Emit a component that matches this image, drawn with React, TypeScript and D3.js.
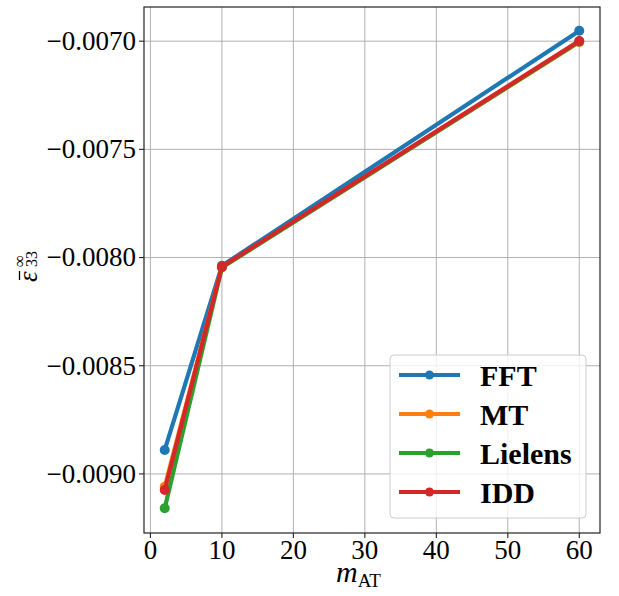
import React from "react";
import * as d3 from "d3";

const xValues = [2, 10, 60];
const seriesNames = ["FFT", "MT", "Lielens", "IDD"];
const seriesColors = ["#1f77b4", "#ff7f0e", "#2ca02c", "#d62728"];
const fftValues = [-0.008889, -0.008038, -0.006952];
const mtValues = [-0.009059, -0.008044, -0.007004];
const lielensValues = [-0.009159, -0.008046, -0.007002];
const iddValues = [-0.009074, -0.008042, -0.006999];
const xTicks = [0, 10, 20, 30, 40, 50, 60];
const yTicks = [-0.009, -0.0085, -0.008, -0.0075, -0.007];
const yTickLabels = ["\u22120.0090", "\u22120.0085", "\u22120.0080", "\u22120.0075", "\u22120.0070"];

const W = 619;
const H = 596;
const L = 144, R = 600, T = 7, B = 533;
const FONT = "'Liberation Serif', 'DejaVu Serif', serif";

export default function App() {
  const allSeries = [fftValues, mtValues, lielensValues, iddValues];
  const x = d3.scaleLinear().domain([-0.9, 62.9]).range([L, R]);
  const y = d3.scaleLinear().domain([-0.009273, -0.006842]).range([B, T]);
  const line = d3
    .line<number>()
    .x((_, i) => x(xValues[i]))
    .y((d) => y(d));

  const legendX = 390, legendY = 355, legendW = 196, legendH = 163;
  const rowY = (i: number) => 375 + i * 39;

  return (
    <svg
      width={W}
      height={H}
      style={{ position: "absolute", left: 0, top: 0, background: "#fff" }}
      fontFamily={FONT}
    >
      <rect x={0} y={0} width={W} height={H} fill="#fff" />
      {/* grid */}
      {xTicks.map((t) => (
        <line key={"gx" + t} x1={x(t)} x2={x(t)} y1={T} y2={B} stroke="#b0b0b0" strokeWidth={1} />
      ))}
      {yTicks.map((t) => (
        <line key={"gy" + t} x1={L} x2={R} y1={y(t)} y2={y(t)} stroke="#b0b0b0" strokeWidth={1} />
      ))}
      {/* series */}
      {allSeries.map((vals, si) => (
        <g key={"s" + si}>
          <path d={line(vals) || ""} fill="none" stroke={seriesColors[si]} strokeWidth={4.2} strokeLinejoin="round" strokeLinecap="square" />
          {vals.map((v, i) => (
            <circle key={i} cx={x(xValues[i])} cy={y(v)} r={5} fill={seriesColors[si]} />
          ))}
        </g>
      ))}
      {/* spines */}
      <rect x={L} y={T} width={R - L} height={B - T} fill="none" stroke="#222" strokeWidth={1.2} />
      {/* x ticks */}
      {xTicks.map((t) => (
        <g key={"xt" + t}>
          <line x1={x(t)} x2={x(t)} y1={B} y2={B + 5} stroke="#222" strokeWidth={1.1} />
          <text x={x(t)} y={559} textAnchor="middle" fontSize={27} fill="#000">
            {t}
          </text>
        </g>
      ))}
      {/* y ticks */}
      {yTicks.map((t, i) => (
        <g key={"yt" + t}>
          <line x1={L - 5} x2={L} y1={y(t)} y2={y(t)} stroke="#222" strokeWidth={1.1} />
          <text x={136} y={y(t)} dy="0.33em" textAnchor="end" fontSize={27} fill="#000">
            {yTickLabels[i]}
          </text>
        </g>
      ))}
      {/* x label */}
      <text x={336} y={582} fontSize={30} fill="#000">
        <tspan fontStyle="italic">m</tspan>
        <tspan fontSize={19} dy={5}>AT</tspan>
      </text>
      {/* y label */}
      <g transform="translate(28,268) rotate(-90)">
        <text x={-14} y={9} fontSize={27} fontStyle="italic" fill="#000">
          ε
        </text>
        <line x1={-12} x2={-3} y1={-8.5} y2={-8.5} stroke="#000" strokeWidth={1.3} />
        <text x={1} y={-3} fontSize={17} fill="#000">
          ∞
        </text>
        <text x={1} y={9} fontSize={16} fill="#000">
          33
        </text>
      </g>
      {/* legend */}
      <rect
        x={legendX}
        y={legendY}
        width={legendW}
        height={legendH}
        rx={4}
        fill="#fff"
        fillOpacity={0.8}
        stroke="#cccccc"
        strokeWidth={1}
      />
      {seriesNames.map((name, i) => (
        <g key={"lg" + name}>
          <line x1={399} x2={460} y1={rowY(i)} y2={rowY(i)} stroke={seriesColors[i]} strokeWidth={4.2} />
          <circle cx={429.5} cy={rowY(i)} r={4.5} fill={seriesColors[i]} />
          <text x={480} y={rowY(i)} dy="0.35em" fontSize={30} fontWeight="bold" fill="#000">
            {name}
          </text>
        </g>
      ))}
    </svg>
  );
}
